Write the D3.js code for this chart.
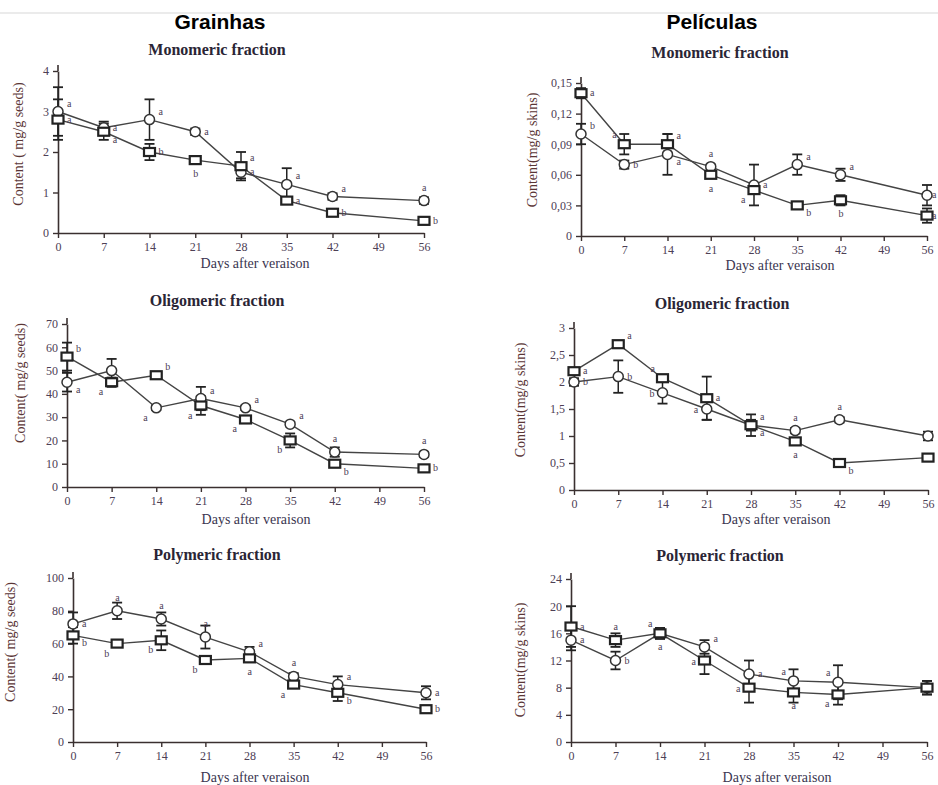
<!DOCTYPE html>
<html><head><meta charset="utf-8">
<script src="https://cdn.jsdelivr.net/npm/d3@7"></script>
<style>body{margin:0;background:#fff}svg{display:block}</style>
</head><body>
<script>
// ---------- DATA ----------
const days = [0, 7, 14, 21, 28, 35, 42, 56];
const xTicks = [0, 7, 14, 21, 28, 35, 42, 49, 56];
const columnTitles = ["Grainhas", "Películas"];
const panelTitles = ["Monomeric fraction", "Monomeric fraction", "Oligomeric fraction", "Oligomeric fraction", "Polymeric fraction", "Polymeric fraction"];
const yTitles = ["Content ( mg/g seeds)", "Content(mg/g skins)", "Content( mg/g seeds)", "Content(mg/g skins)", "Content( mg/g seeds)", "Content(mg/g skins)"];
const xTitle = "Days after veraison";
const yTicks = [
  [0, 1, 2, 3, 4],
  [0, 0.03, 0.06, 0.09, 0.12, 0.15],
  [0, 10, 20, 30, 40, 50, 60, 70],
  [0, 0.5, 1, 1.5, 2, 2.5, 3],
  [0, 20, 40, 60, 80, 100],
  [0, 4, 8, 12, 16, 20, 24]
];
// circle series
const circleValues = [
  [3.0, 2.6, 2.8, 2.5, 1.5, 1.2, 0.9, 0.8],
  [0.10, 0.07, 0.08, 0.068, 0.05, 0.07, 0.06, 0.04],
  [45, 50, 34, 38, 34, 27, 15, 14],
  [2.0, 2.1, 1.8, 1.5, 1.2, 1.1, 1.3, 1.0],
  [72, 80, 75, 64, 55, 40, 35, 30],
  [15, 12, 16, 14, 10, 9, 8.8, 8]
];
const circleErrors = [
  [0.6, 0.15, 0.5, 0.08, 0.15, 0.4, 0.08, 0.08],
  [0.01, 0.004, 0.02, 0.002, 0.02, 0.01, 0.006, 0.01],
  [4, 5, 1, 5, 1, 1, 2, 1],
  [0.07, 0.3, 0.2, 0.2, 0.1, 0.05, 0.05, 0.08],
  [7, 5, 4, 7, 3, 2, 5, 4],
  [1.5, 1.3, 0.8, 1, 2, 1.7, 2.5, 1]
];
const circleLetters = [
  ["a", "a", "a", "a", "a", "a", "a", "a"],
  ["b", "b", "a", "a", "a", "a", "a", "a"],
  ["a", "", "a", "a", "a", "a", "a", "a"],
  ["b", "b", "b", "a", "a", "a", "a", ""],
  ["a", "a", "a", "a", "a", "a", "a", "a"],
  ["a", "b", "a", "a", "a", "a", "a", ""]
];
const circleLetterSide = [
  ["ar", "r", "ar", "r", "r", "ar", "ar", "t"],
  ["ar", "r", "br", "t", "r", "ar", "ar", "rs"],
  ["br", "r", "bl", "ar", "ar", "ar", "t", "t"],
  ["r", "r", "l", "l", "br", "t", "t", "r"],
  ["r", "t", "t", "t", "ar", "t", "ar", "r"],
  ["r", "r", "b", "ar", "r", "al", "al", "r"]
];
// square series
const squareValues = [
  [2.8, 2.5, 2.0, 1.8, 1.65, 0.8, 0.5, 0.3],
  [0.14, 0.09, 0.09, 0.06, 0.045, 0.03, 0.035, 0.02],
  [56, 45, 48, 35, 29, 20, 10, 8],
  [2.2, 2.7, 2.07, 1.7, 1.2, 0.9, 0.5, 0.6],
  [65, 60, 62, 50, 51, 35, 30, 20],
  [17, 15, 16, 12, 8, 7.3, 7, 8]
];
const squareErrors = [
  [0.5, 0.2, 0.2, 0.05, 0.35, 0.05, 0.05, 0.05],
  [0.005, 0.01, 0.01, 0.003, 0.003, 0.002, 0.005, 0.007],
  [6, 2, 1, 4, 1, 3, 1, 1],
  [0.05, 0.05, 0.05, 0.4, 0.2, 0.05, 0.05, 0.04],
  [5, 1, 6, 1, 1, 1, 5, 1],
  [3, 1, 0.8, 2, 2.2, 1.5, 1.5, 1]
];
const squareLetters = [
  ["a", "a", "b", "b", "a", "a", "b", "b"],
  ["a", "a", "a", "a", "a", "b", "b", "a"],
  ["b", "a", "b", "a", "a", "b", "b", "b"],
  ["a", "a", "a", "a", "a", "a", "b", ""],
  ["b", "b", "b", "b", "a", "a", "b", "b"],
  ["a", "a", "a", "a", "a", "a", "a", ""]
];
const squareLetterSide = [
  ["r", "br", "r", "b", "ar", "r", "r", "r"],
  ["r", "al", "ar", "b", "bl", "br", "b", "rs"],
  ["ar", "bl", "ar", "bl", "bl", "bl", "br", "r"],
  ["r", "ar", "al", "r", "ar", "b", "br", "r"],
  ["br", "bl", "bl", "bl", "b", "bl", "br", "r"],
  ["r", "t", "al", "l", "l", "b", "bl", "r"]
];

// ---------- LAYOUT ----------
const layout = [
  {x0: 58, x1: 424, y0: 233, y1: 71, tx: 217, ty: 55, ytOff: 35, ytc: 144, xtx: 255, xty: 268},
  {x0: 581, x1: 927, y0: 236, y1: 83, tx: 720, ty: 58, ytOff: 44, ytc: 150, xtx: 780, xty: 270},
  {x0: 67, x1: 424, y0: 487, y1: 324, tx: 217, ty: 306, ytOff: 42, ytc: 383, xtx: 256, xty: 524},
  {x0: 574, x1: 928, y0: 490, y1: 328, tx: 722, ty: 309, ytOff: 49, ytc: 400, xtx: 776, xty: 524},
  {x0: 73, x1: 426, y0: 742, y1: 578, tx: 217, ty: 560, ytOff: 58, ytc: 642, xtx: 255, xty: 782},
  {x0: 571, x1: 927, y0: 742, y1: 579, tx: 720, ty: 561, ytOff: 46, ytc: 660, xtx: 777, xty: 782}
];
const colCenters = [220, 712];
const letterOffset = {r: [9, 3], rs: [5, 3], ar: [9, -5], br: [9, 11], l: [-13, 4], al: [-12, -6], bl: [-13, 13], t: [-2, -10], b: [-2, 17]};

const W = 938, H = 785;
const serif = "'Liberation Serif','Times New Roman',serif";
const locale = d3.formatLocale({decimal: ",", thousands: ".", grouping: [3], currency: ["", ""]});
const fmt = locale.format("~g");

const svg = d3.select("body").append("svg").attr("width", W).attr("height", H);
svg.append("line").attr("x1", 0).attr("x2", W).attr("y1", 13).attr("y2", 13).attr("stroke", "#d8d8d8").attr("stroke-width", 1.2);

columnTitles.forEach((t, i) => {
  svg.append("text").attr("x", colCenters[i]).attr("y", 29).attr("text-anchor", "middle")
    .attr("font-family", "'Liberation Sans',Arial,sans-serif").attr("font-weight", "bold").attr("font-size", 21)
    .attr("fill", "#000").text(t);
});

layout.forEach((L, p) => {
  const g = svg.append("g");
  const yMax = yTicks[p][yTicks[p].length - 1];
  const x = d3.scaleLinear().domain([0, 56]).range([L.x0, L.x1]);
  const y = d3.scaleLinear().domain([0, yMax]).range([L.y0, L.y1]);

  // panel title
  g.append("text").attr("x", L.tx).attr("y", L.ty).attr("text-anchor", "middle")
    .attr("font-family", serif).attr("font-weight", "bold").attr("font-size", 16).attr("fill", "#2a2535")
    .text(panelTitles[p]);

  // axes
  const xa = g.append("g").attr("transform", `translate(0,${L.y0})`)
    .call(d3.axisBottom(x).tickValues(xTicks).tickSize(5).tickSizeOuter(0).tickPadding(4));
  const ya = g.append("g").attr("transform", `translate(${L.x0},0)`)
    .call(d3.axisLeft(y).tickValues(yTicks[p]).tickFormat(fmt).tickSize(5).tickSizeOuter(0).tickPadding(4));
  [xa, ya].forEach(a => {
    a.select(".domain").attr("stroke", "#3a3030").attr("stroke-width", 1.6);
    a.selectAll(".tick line").attr("stroke", "#3a3030").attr("stroke-width", 1.4);
    a.selectAll(".tick text").attr("font-family", serif).attr("font-size", 12).attr("fill", "#4d4055");
  });
  g.append("line").attr("x1", L.x0).attr("x2", L.x0).attr("y1", L.y1).attr("y2", L.y1 - 6)
    .attr("stroke", "#3a3030").attr("stroke-width", 1.6);

  // axis titles
  g.append("text").attr("x", L.xtx).attr("y", L.xty).attr("text-anchor", "middle")
    .attr("font-family", serif).attr("font-size", 14).attr("fill", "#3a3550").text(xTitle);
  g.append("text").attr("transform", `translate(${L.x0 - L.ytOff},${L.ytc}) rotate(-90)`)
    .attr("text-anchor", "middle").attr("font-family", serif).attr("font-size", 14).attr("fill", "#5a3535")
    .text(yTitles[p]);

  const series = [
    {v: circleValues[p], e: circleErrors[p], l: circleLetters[p], s: circleLetterSide[p], shape: "circle"},
    {v: squareValues[p], e: squareErrors[p], l: squareLetters[p], s: squareLetterSide[p], shape: "square"}
  ];
  const line = d3.line().x((d, i) => x(days[i])).y(d => y(d));
  series.forEach(S => {
    g.append("path").datum(S.v).attr("d", line).attr("fill", "none").attr("stroke", "#444").attr("stroke-width", 1.4);
  });
  series.forEach(S => {
    S.v.forEach((v, i) => {
      const cx = x(days[i]);
      const top = y(v + S.e[i]), bot = y(Math.max(0, v - S.e[i]));
      g.append("line").attr("x1", cx).attr("x2", cx).attr("y1", top).attr("y2", bot).attr("stroke", "#222").attr("stroke-width", 1.5);
      [top, bot].forEach(yy => g.append("line").attr("x1", cx - 5).attr("x2", cx + 5).attr("y1", yy).attr("y2", yy)
        .attr("stroke", "#222").attr("stroke-width", 1.8));
    });
  });
  series.forEach(S => {
    S.v.forEach((v, i) => {
      const cx = x(days[i]), cy = y(v);
      if (S.shape === "circle") {
        g.append("circle").attr("cx", cx).attr("cy", cy).attr("r", 5).attr("fill", "#fff").attr("stroke", "#333").attr("stroke-width", 1.5);
      } else {
        g.append("rect").attr("x", cx - 5.5).attr("y", cy - 4).attr("width", 11).attr("height", 8)
          .attr("fill", "#fff").attr("stroke", "#222").attr("stroke-width", 2.2);
      }
      if (S.l[i]) {
        const o = letterOffset[S.s[i]];
        g.append("text").attr("x", cx + o[0]).attr("y", cy + o[1]).attr("font-family", serif).attr("font-size", 10)
          .attr("fill", "#4d4055").text(S.l[i]);
      }
    });
  });
});
</script>
</body></html>
